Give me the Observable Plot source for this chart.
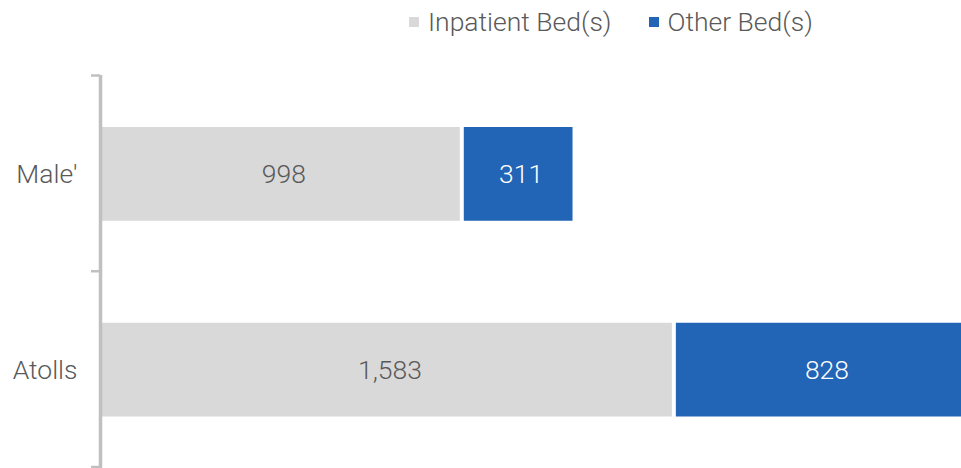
<!DOCTYPE html>
<html>
<head>
<meta charset="utf-8">
<script src="https://cdn.jsdelivr.net/npm/d3@7"></script>
<script src="https://cdn.jsdelivr.net/npm/@observablehq/plot@0.6"></script>
<style>
  html, body { margin: 0; padding: 0; background: #fff; overflow: hidden; }
  #wrap { position: relative; width: 961px; height: 468px; font-family: Roboto, sans-serif; font-weight: 300; }
  #legend { position: absolute; top: 6px; left: 409px; display: flex; align-items: center; font-size: 26.5px; color: #595959; white-space: nowrap; }
  #legend .item { display: flex; align-items: center; margin-right: 37px; }
  #legend .sw { width: 10px; height: 10px; margin-right: 9px; }
  svg { overflow: hidden; }
</style>
</head>
<body>
<div id="wrap"><div id="legend"></div><div id="chart"></div></div>
<script>
const categories = ["Male'", "Atolls"];
const seriesNames = ["Inpatient Bed(s)", "Other Bed(s)"];
const inpatient = [998, 1583];
const other = [311, 828];
const seriesColors = ["#d9d9d9", "#2264b6"];
const labelColors = ["#595959", "#ffffff"];

const rows = [];
categories.forEach((c, i) => {
  const vals = [inpatient[i], other[i]];
  let acc = 0;
  vals.forEach((v, s) => {
    rows.push({cat: c, i, series: seriesNames[s], s, value: v, x1: acc, x2: acc + v});
    acc += v;
  });
});

const legend = document.getElementById("legend");
seriesNames.forEach((n, s) => {
  const it = document.createElement("div");
  it.className = "item";
  const sw = document.createElement("span");
  sw.className = "sw";
  sw.style.background = seriesColors[s];
  const t = document.createElement("span");
  t.textContent = n;
  it.appendChild(sw); it.appendChild(t);
  legend.appendChild(it);
});

const fmt = d3.format(",");
const chart = Plot.plot({
  width: 961,
  height: 468,
  marginLeft: 100,
  marginRight: 0,
  marginTop: 0,
  marginBottom: 0,
  style: {fontFamily: "Roboto, sans-serif", fontWeight: 300, background: "transparent"},
  x: {domain: [0, 2411], range: [100, 974], axis: null},
  y: {domain: [0, 2], range: [75, 466.5], axis: null},
  color: {domain: seriesNames, range: seriesColors},
  marks: [
    Plot.rectX(rows, {x1: "x1", x2: "x2", y1: "i", y2: d => d.i + 1, fill: "series",
      insetTop: 52, insetBottom: 50, insetLeft: 2, insetRight: 2, clip: true}),
    Plot.text(rows, {x: d => (d.x1 + d.x2) / 2, y: d => d.i + 0.5, dy: 1.5, dx: 2.5, text: d => fmt(d.value),
      fill: d => labelColors[d.s], fontSize: 26.5, fontWeight: 300}),
    Plot.axisY({ticks: [0, 1, 2], tickFormat: () => "", label: null, tickSize: 9, stroke: "#c0c0c0", strokeWidth: 2.5}),
    Plot.ruleX([0], {y1: 0, y2: 2.1, stroke: "#c0c0c0", strokeWidth: 3.5}),
    Plot.axisY({ticks: [0.5, 1.5], tickFormat: d => categories[Math.floor(d)], label: null, tickSize: 0, tickPadding: 23,
      dy: 1.5, fontSize: 26.5, fill: "#595959", fontWeight: 300})
  ]
});
document.getElementById("chart").appendChild(chart);
</script>
</body>
</html>
